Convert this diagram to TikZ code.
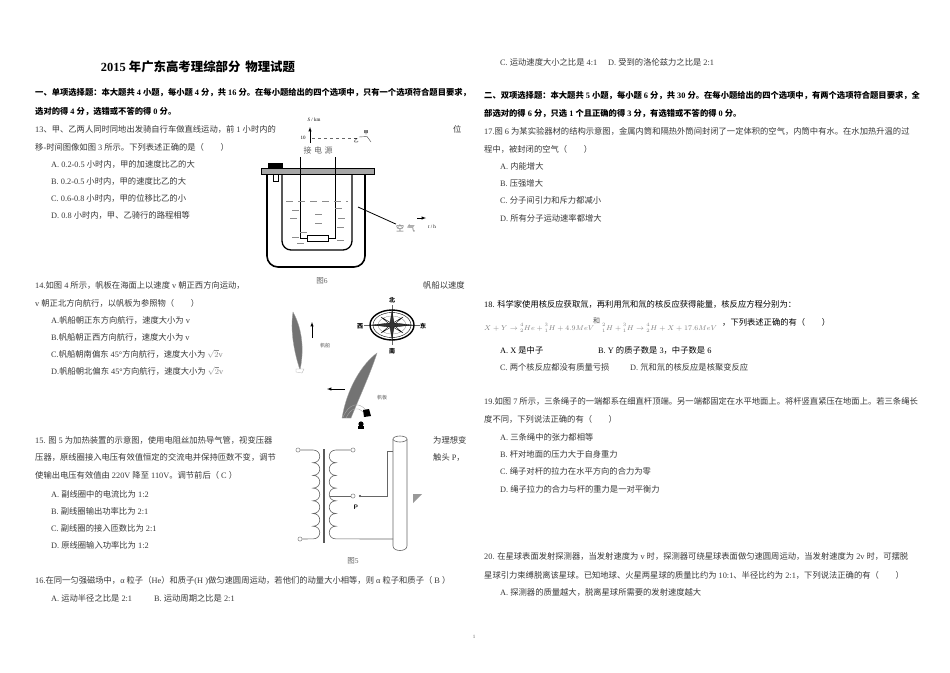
\documentclass[tikz,border=0pt]{standalone}
\usepackage{fontspec}
\setmainfont{Liberation Serif}
\newfontfamily\cjk{Noto Sans CJK SC}
\newXeTeXintercharclass\cjkclass
\def\setcjkrange#1#2{\count255=#1 \loop\XeTeXcharclass\count255=\cjkclass\relax\ifnum\count255<#2 \advance\count255 by 1 \repeat}
\setcjkrange{"3000}{"303F}
\setcjkrange{"4E00}{"9FFF}
\setcjkrange{"FF00}{"FFEF}
\XeTeXinterchartoks 0 \cjkclass = {\cjk}
\XeTeXinterchartoks 4095 \cjkclass = {\cjk}
\XeTeXinterchartoks \cjkclass 0 = {\rmfamily}
\XeTeXinterchartoks \cjkclass 4095 = {\rmfamily}
\XeTeXinterchartokenstate=1
\tikzset{
  txt/.style={anchor=base west,inner sep=0pt,text=black!78,font=\fontsize{8.3}{10}\selectfont},
  dark/.style={txt,text=black},
  hd/.style={txt,text=black,font=\fontsize{8.3}{10}\selectfont\bfseries},
  eqn/.style={txt,text=black!50,font=\fontsize{7.2}{8}\selectfont},
  figlbl/.style={inner sep=0pt,text=black!60,font=\fontsize{7.5}{8}\selectfont},
  wee/.style={inner sep=0pt,text=black!65,font=\fontsize{5}{6}\selectfont},
  dirlbl/.style={inner sep=0pt,text=black,font=\fontsize{6}{7}\selectfont\bfseries},
  term/.style={circle,draw=black!60,fill=white,inner sep=0pt,minimum size=4.2pt},
  wire/.style={draw=black!60,line width=0.6pt},
  water/.style={draw=black!45,line width=0.6pt},
  sail/.style={fill=black!55,draw=black!35,line width=0.3pt},
}
\begin{document}
\begin{tikzpicture}[x=1pt,y=-1pt]
\fill[white] (0,0) rectangle (950,672);
\useasboundingbox (0,0) rectangle (950,672);

\node[anchor=base,inner sep=0pt,font=\fontsize{12.4}{14}\selectfont\bfseries] (title) at (198,71) {2015 年广东高考理综部分\hspace{5pt}物理试题};
\node[hd] (secA1) at (35,95) {一、单项选择题：本大题共 4 小题，每小题 4 分，共 16 分。在每小题给出的四个选项中，只有一个选项符合题目要求，};
\node[hd] (secA2) at (35,114) {选对的得 4 分，选错或不答的得 0 分。};

\node[txt] (q13a) at (35,132) {13、甲、乙两人同时同地出发骑自行车做直线运动，前 1 小时内的};
\node[txt] (q13w) at (453,132) {位};
\node[txt] (q13b) at (35,150) {移-时间图像如图 3 所示。下列表述正确的是（　　）};
\node[txt] (q13A) at (51,167) {A. 0.2-0.5 小时内，甲的加速度比乙的大};
\node[txt] (q13B) at (51,184) {B. 0.2-0.5 小时内，甲的速度比乙的大};
\node[txt] (q13C) at (51,201) {C. 0.6-0.8 小时内，甲的位移比乙的小};
\node[txt] (q13D) at (51,218) {D. 0.8 小时内，甲、乙骑行的路程相等};

\node[txt] (q14a) at (35,288) {14.如图 4 所示，帆板在海面上以速度 v 朝正西方向运动，};
\node[txt] (q14r) at (423,288) {帆船以速度};
\node[txt] (q14b) at (35,306) {v 朝正北方向航行，以帆板为参照物（　　）};
\node[txt] (q14A) at (51,323) {A.帆船朝正东方向航行，速度大小为 v};
\node[txt] (q14B) at (51,340) {B.帆船朝正西方向航行，速度大小为 v};
\node[txt] (q14C) at (51,357) {C.帆船朝南偏东 45°方向航行，速度大小为 {\color{black!45}$\sqrt{2}\mathrm{v}$}};
\node[txt] (q14D) at (51,374) {D.帆船朝北偏东 45°方向航行，速度大小为 {\color{black!45}$\sqrt{2}\mathrm{v}$}};

\node[txt] (q15a) at (35,443) {15. 图 5 为加热装置的示意图，使用电阻丝加热导气管，视变压器};
\node[txt] (q15r) at (433,443) {为理想变};
\node[txt] (q15b) at (35,460) {压器，原线圈接入电压有效值恒定的交流电并保持匝数不变，调节};
\node[txt] (q15s) at (433,460) {触头 P，};
\node[txt] (q15c) at (35,478) {使输出电压有效值由 220V 降至 110V。调节前后（ C ）};
\node[txt] (q15A) at (51,497) {A. 副线圈中的电流比为 1:2};
\node[txt] (q15B) at (51,514) {B. 副线圈输出功率比为 2:1};
\node[txt] (q15C) at (51,531) {C. 副线圈的接入匝数比为 2:1};
\node[txt] (q15D) at (51,548) {D. 原线圈输入功率比为 1:2};

\node[txt] (q16a) at (35,583) {16.在同一匀强磁场中，α 粒子（He）和质子(H )做匀速圆周运动，若他们的动量大小相等，则 α 粒子和质子（ B ）};
\node[txt] (q16A) at (51,601) {A. 运动半径之比是 2:1};
\node[txt] (q16B) at (154,601) {B. 运动周期之比是 2:1};
\node[txt] (q16C) at (500,65) {C. 运动速度大小之比是 4:1};
\node[txt] (q16D) at (608,65) {D. 受到的洛伦兹力之比是 2:1};

\node[hd] (secB1) at (484,98) {二、双项选择题：本大题共 5 小题，每小题 6 分，共 30 分。在每小题给出的四个选项中，有两个选项符合题目要求，全};
\node[hd] (secB2) at (484,116) {部选对的得 6 分，只选 1 个且正确的得 3 分，有选错或不答的得 0 分。};

\node[txt] (q17a) at (484,134) {17.图 6 为某实验器材的结构示意图，金属内筒和隔热外筒间封闭了一定体积的空气，内筒中有水。在水加热升温的过};
\node[txt] (q17b) at (484,152) {程中，被封闭的空气（　　）};
\node[txt] (q17A) at (500,169) {A. 内能增大};
\node[txt] (q17B) at (500,186) {B. 压强增大};
\node[txt] (q17C) at (500,203) {C. 分子间引力和斥力都减小};
\node[txt] (q17D) at (500,221) {D. 所有分子运动速率都增大};

\node[dark] (q18a) at (484,307) {18. 科学家使用核反应获取氚，再利用氘和氚的核反应获得能量，核反应方程分别为：};
\node[eqn] (eqa) at (484,330) {$X+Y\rightarrow{}^4_2He+{}^3_1H+4.9MeV$};
\node[txt,text=black!70,font=\fontsize{7}{8}\selectfont] (eqand) at (593,323) {和};
\node[eqn] (eqb) at (602,330) {${}^2_1H+{}^3_1H\rightarrow{}^4_2H+X+17.6MeV$};
\node[dark] (q18b) at (722,325) {，下列表述正确的有（　　）};
\node[dark] (q18A) at (500,353) {A. X 是中子};
\node[dark] (q18B) at (598,353) {B. Y 的质子数是 3，中子数是 6};
\node[txt] (q18C) at (500,370) {C. 两个核反应都没有质量亏损};
\node[txt] (q18D) at (630,370) {D. 氘和氚的核反应是核聚变反应};

\node[txt] (q19a) at (484,404) {19.如图 7 所示，三条绳子的一端都系在细直杆顶端。另一端都固定在水平地面上。将杆竖直紧压在地面上。若三条绳长};
\node[txt] (q19b) at (484,422) {度不同，下列说法正确的有（　　）};
\node[txt] (q19A) at (500,440) {A. 三条绳中的张力都相等};
\node[txt] (q19B) at (500,457) {B. 杆对地面的压力大于自身重力};
\node[txt] (q19C) at (500,474) {C. 绳子对杆的拉力在水平方向的合力为零};
\node[txt] (q19D) at (500,492) {D. 绳子拉力的合力与杆的重力是一对平衡力};

\node[txt] (q20a) at (484,559) {20. 在星球表面发射探测器，当发射速度为 v 时，探测器可绕星球表面做匀速圆周运动，当发射速度为 2v 时，可摆脱};
\node[txt] (q20b) at (484,578) {星球引力束缚脱离该星球。已知地球、火星两星球的质量比约为 10:1、半径比约为 2:1，下列说法正确的有（　　）};
\node[txt] (q20A) at (500,595) {A. 探测器的质量越大，脱离星球所需要的发射速度越大};

\node[wee] (page) at (474,637) {1};

\node[wee,text=black] (skm) at (314,120) {\itshape S\upshape\ / km};
\node[wee,text=black] (ten) at (303,138) {10};
\coordinate (sbot) at (310,143);
\coordinate (stop) at (310,127);
\draw[-latex,line width=0.5pt] (sbot) -- (stop);
\draw[dashed,black!60] (312,138) -- (357,138);
\node[wee,text=black] (jia) at (366,133) {甲};
\node[wee,text=black] (yi) at (356,141) {乙};
\draw[black!70,line width=0.4pt] (359,137) -- (367,136.5) -- (371,142);
\node[figlbl,font=\fontsize{8}{9}\selectfont] (power) at (318,150) {接\hspace{2.5pt}电\hspace{2.5pt}源};

\draw[line width=0.5pt,fill=black!35] (261,168) rectangle (374,174);
\fill (268,163) rectangle (283,168);
\draw[line width=0.5pt,fill=white] (273,174) rectangle (278,181);
\draw[line width=1.6pt,rounded corners=11pt] (267,174) -- (267,267) -- (365,267) -- (365,174);
\draw[line width=1.3pt,rounded corners=9pt] (282,174) -- (282,250) -- (352,250) -- (352,174);
\draw[line width=0.9pt] (300,157) -- (300,238) -- (307,238);
\draw[line width=0.9pt] (335,157) -- (335,238) -- (328,238);
\draw[line width=0.6pt,fill=white] (307,235.5) rectangle (328,241);
\draw[water,dash pattern=on 7pt off 5pt] (286,201) -- (348,201);
\foreach \x/\y in {335/208,292/210,315/214,338/218,290/218,315/223,337/227,300/232,292/237,297/243,337/240}
  \draw[water] (\x,\y) -- ++(7,0);
\coordinate (airpt) at (358,207);
\node[figlbl,font=\fontsize{8}{9}\selectfont,anchor=west] (air) at (396,228) {空\hspace{3pt}气};
\draw[line width=0.8pt] (airpt) -- (air.north west);
\coordinate (tfoot) at (417,218);
\coordinate (ttip) at (426,218);
\draw[-latex,line width=0.5pt] (tfoot) -- (ttip);
\node[wee,text=black,anchor=west] (th) at (428,227) {\itshape t\upshape\ / h};
\node[figlbl] (fig6) at (322,281) {图6};

\begin{scope}[shift={(392,325)}]
\draw[black!60,line width=0.4pt] (-28,0) -- (28,0);
\draw[black!60,line width=0.4pt] (0,-20) -- (0,20);
\draw[line width=1.4pt] (0,0) ellipse (22 and 15);
\draw[line width=0.4pt] (0,0) ellipse (19 and 12.5);
\draw[black!50,line width=0.3pt] (0,0) ellipse (14 and 9);
\draw[fill=white,line width=0.4pt] (11,-8) -- (1.5,0) -- (11,8) -- (0,1.5) -- (-11,8) -- (-1.5,0) -- (-11,-8) -- (0,-1.5) -- cycle;
\draw[fill=black!80,line width=0.3pt] (0,-14) -- (2,-2) -- (20,0) -- (2,2) -- (0,14) -- (-2,2) -- (-20,0) -- (-2,-2) -- cycle;
\end{scope}
\node[dirlbl] (north) at (392,300) {北};
\node[dirlbl] (south) at (392,351) {南};
\node[dirlbl] (west) at (360,326) {西};
\node[dirlbl] (east) at (423,326) {东};

\draw[sail] (293,312) .. controls (303,330) and (304,352) .. (300,370) .. controls (294,352) and (290,330) .. (293,312) -- cycle;
\draw[black!30,line width=0.3pt,fill=white] (296,369) -- (304,369) -- (302,373) -- (296,372) -- cycle;
\coordinate (boatfoot) at (312,338);
\coordinate (boattip) at (312,322);
\draw[-latex,line width=0.5pt] (boatfoot) -- (boattip);
\node[wee] (boat) at (325,346) {帆船};

\draw[sail] (377,353) .. controls (362,364) and (347,388) .. (342,418) -- (351,418) .. controls (360,396) and (371,372) .. (377,353) -- cycle;
\draw[black!35,line width=0.4pt] (343,417) .. controls (349,404) and (358,401) .. (366,410);
\draw[black!35,line width=0.4pt] (346,418) .. controls (351,408) and (357,406) .. (363,412);
\fill (363,410) -- (369,409) -- (371,416) -- (364,417) -- cycle;
\fill (361,424) circle (2.6);
\fill (358,426) rectangle (364,429);
\coordinate (boardfoot) at (345,389);
\coordinate (boardtip) at (327,389);
\draw[-latex,line width=0.5pt] (boardfoot) -- (boardtip);
\node[wee] (board) at (382,398) {帆板};

\draw[black!65,line width=1.3pt] (324,449) -- (324,543);
\node[term] (pa) at (298,450) {};
\node[term] (pb) at (300,539) {};
\node[term] (sa) at (353,450) {};
\node[term] (sb) at (353,496) {};
\coordinate (tubeT) at (393,451);
\coordinate (tubeB) at (393,539);
\draw[wire] (pa) -- (313,450)
  \foreach \k in {0,...,6}{ .. controls (322,{450+12.7*\k}) and (322,{462.7+12.7*\k}) .. (313,{462.7+12.7*\k}) }
  -- (pb);
\draw[wire] (sa) -- (336,450)
  \foreach \k in {0,...,6}{ .. controls (327,{450+12.7*\k}) and (327,{462.7+12.7*\k}) .. (336,{462.7+12.7*\k}) }
  -- (tubeB);
\draw[wire] (330,496) -- (sb);
\fill[black!80] (360,496) circle (1.2);
\draw[wire] (360,496) -- (387,496) -- (387,451) -- (tubeT);
\node[inner sep=0pt,font=\fontsize{6.5}{7}\sffamily\bfseries] (pP) at (356,507) {P};
\draw[black!60,line width=0.6pt] (393,439) -- (393,546) .. controls (393,552) and (407,552) .. (407,546) -- (407,439);
\draw[black!60,line width=0.6pt,fill=white] (400,439) ellipse (7 and 3);
\fill[black!40] (413,494) -- (422,494) -- (413,503) -- cycle;
\node[figlbl] (fig5) at (353,561) {图5};
\end{tikzpicture}
\end{document}
